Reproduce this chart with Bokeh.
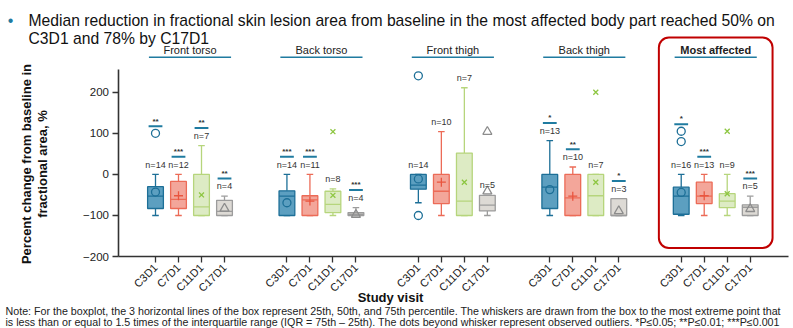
import math
from bokeh.plotting import figure
from bokeh.models import ColumnDataSource, Range1d, FixedTicker, Label, BoxAnnotation
from bokeh.embed import file_html
from bokeh.resources import INLINE
from bokeh.core.properties import value

# ---------------- data ----------------
regions = ["Front torso", "Back torso", "Front thigh", "Back thigh", "Most affected"]
visits = ["C3D1", "C7D1", "C11D1", "C17D1"]

n_counts = [[14, 12, 7, 4], [14, 11, 8, 4], [14, 10, 7, 5], [13, 10, 7, 3], [16, 13, 9, 5]]
signif = [["**", "***", "**", "**"], ["***", "***", "", "***"], ["", "", "", ""],
          ["*", "**", "", "*"], ["*", "***", "", "***"]]
whisker_low = [[-100, -100, -100, -100], [-100, -100, -100, -100], [-69, -100, -100, -100],
               [-100, -100, -100, -100], [-100, -100, -100, -100]]
q1 = [[-83, -83, -100, -100], [-100, -100, -93, -100], [-36, -71, -100, -89],
      [-83, -100, -100, -100], [-97, -71, -81, -100]]
median = [[-53, -61, -79, -90], [-53, -62, -73, -97], [-26, -41, -65, -75],
          [-31, -57, -52, -100], [-53, -53, -65, -80]]
q3 = [[-30, -17, 0, -63], [-40, -52, -41, -93], [0, 0, 52, -51],
      [0, 0, 0, -59], [-31, -19, -47, -74]]
whisker_high = [[0, 0, 70, -53], [0, 0, -35, -81], [0, 104, 211, -51],
                [82, 18, 0, -59], [0, 0, 0, -53]]
mean = [[-43, -52, -50, -83], [-69, -65, -51, -98], [-11, -19, -19, -41],
        [-37, -53, -19, -89], [-44, -52, -47, -84]]
outliers = [[[100], [], [], []], [[], [], [104], []], [[240, -100], [], [], [104]],
            [[], [], [200], []], [[105, 80], [], [105], []]]
y_ticks = [-200, -100, 0, 100, 200]

# ---------------- style ----------------
FONT = "Liberation Sans"
TEXT = "#222222"
ACCENT = "#1F7BA0"
fills = ["#5C9FC0", "#F3A69A", "#DDEBC4", "#DDDAD5"]
edges = ["#1D6F97", "#EC6B57", "#B6D57C", "#9C9C9C"]
mark_colors = ["#1D6F97", "#E9553F", "#8DC641", "#8C8C8C"]
markers = ["circle", "cross", "x", "triangle"]
mark_sizes = [8, 9, 7, 9]

VISIT_STEP, GROUP_STEP = 7, 40
BOX_W, CAP_W, MED_W, SIG_W = 4.8, 2.0, 4.8, 4.2

# page geometry: the figure fills the 793x328 window
OFF = 0
W, H = 793, 328
# screen -> data mapping (screen px measured in the window)
SX0, SXS = 155.0, 23.0 / VISIT_STEP      # x of first tick, px per x unit
SY0, SYS = 173.9, 0.41075                # y of value 0, px per y unit


def dx(s):
    return (s - SX0) / SXS


def dy(s):
    return (SY0 - s) / SYS


X0, X1 = dx(OFF), dx(OFF + W)
Y0, Y1 = dy(OFF + H), dy(OFF)

p = figure(width=W, height=H, output_backend="svg", toolbar_location=None,
           x_range=Range1d(X0, X1), y_range=Range1d(Y0, Y1),
           min_border=0, min_border_left=0, min_border_right=0,
           min_border_top=0, min_border_bottom=0)
p.outline_line_color = None
p.grid.visible = False
p.background_fill_color = "white"
p.border_fill_color = "white"

# ---------------- boxes ----------------
for i, visit in enumerate(visits):
    xs = [g * GROUP_STEP + i * VISIT_STEP for g in range(len(regions))]
    src = ColumnDataSource(dict(
        x=xs,
        lo=[whisker_low[g][i] for g in range(len(regions))],
        q1=[q1[g][i] for g in range(len(regions))],
        med=[median[g][i] for g in range(len(regions))],
        q3=[q3[g][i] for g in range(len(regions))],
        hi=[whisker_high[g][i] for g in range(len(regions))],
        mean=[mean[g][i] for g in range(len(regions))],
        cl=[x - CAP_W / 2 for x in xs], cr=[x + CAP_W / 2 for x in xs],
        ml=[x - MED_W / 2 for x in xs], mr=[x + MED_W / 2 for x in xs],
    ))
    p.segment(x0="x", x1="x", y0="q3", y1="hi", line_color=edges[i], line_width=1.3, source=src)
    p.segment(x0="x", x1="x", y0="q1", y1="lo", line_color=edges[i], line_width=1.3, source=src)
    p.segment(x0="cl", x1="cr", y0="hi", y1="hi", line_color=edges[i], line_width=1.3, source=src)
    p.segment(x0="cl", x1="cr", y0="lo", y1="lo", line_color=edges[i], line_width=1.3, source=src)
    p.vbar(x="x", width=BOX_W, bottom="q1", top="q3", fill_color=fills[i],
           line_color=edges[i], line_width=1.3, source=src)
    p.segment(x0="ml", x1="mr", y0="med", y1="med", line_color=edges[i], line_width=1.3, source=src)
    p.scatter(x="x", y="mean", marker=markers[i], size=mark_sizes[i], fill_color=None,
              line_color=mark_colors[i], line_width=1.3, source=src)
    ox, oy = [], []
    for g in range(len(regions)):
        for v in outliers[g][i]:
            ox.append(xs[g])
            oy.append(v)
    p.scatter(x=ox, y=oy, marker=markers[i], size=mark_sizes[i], fill_color=None,
              line_color=mark_colors[i], line_width=1.3)

# ---------------- n labels and significance ----------------
nx, ny, nt = [], [], []
sx0, sx1, sy, stx, sty, stt = [], [], [], [], [], []
for g in range(len(regions)):
    for i in range(len(visits)):
        x = g * GROUP_STEP + i * VISIT_STEP
        n_y = whisker_high[g][i] + 24
        nx.append(x); ny.append(n_y); nt.append(f"n={n_counts[g][i]}")
        if signif[g][i]:
            above = [v for v in outliers[g][i] if v > whisker_high[g][i]]
            line_y = max([n_y + 19] + [v + 17 for v in above])
            sx0.append(x - SIG_W / 2); sx1.append(x + SIG_W / 2); sy.append(line_y)
            stx.append(x); sty.append(line_y + 2); stt.append(signif[g][i])

p.text(x=nx, y=ny, text=nt, text_align="center", text_baseline="middle",
       text_font=value(FONT), text_font_size="9px", text_color="#333333")
p.segment(x0=sx0, x1=sx1, y0=sy, y1=sy, line_color=ACCENT, line_width=2)
p.text(x=stx, y=sty, text=stt, text_align="center", text_baseline="bottom",
       text_font=value(FONT), text_font_size="8px", text_font_style="bold", text_color="#333333")

# ---------------- facet headers ----------------
centers = [g * GROUP_STEP + 1.5 * VISIT_STEP for g in range(len(regions))]
p.text(x=centers, y=[dy(49.5)] * len(regions), text=regions, text_align="center",
       text_baseline="middle", text_font=value(FONT), text_font_size="11px", text_color=TEXT,
       text_font_style=["normal"] * (len(regions) - 1) + ["bold"])
p.segment(x0=[c - 12.5 for c in centers], x1=[c + 12.5 for c in centers],
          y0=[dy(56.7)] * len(regions), y1=[dy(56.7)] * len(regions),
          line_color=ACCENT, line_width=1.6)

p.add_layout(BoxAnnotation(left=centers[-1] - 17.3, right=centers[-1] + 17.3,
                           top=dy(37), bottom=dy(247.5), fill_alpha=0, fill_color=None,
                           line_color="#C00000", line_alpha=1.0, line_width=2,
                           border_radius=10))

# ---------------- axes (library axes, pinned inside the frame) ----------------
tick_pos = [g * GROUP_STEP + i * VISIT_STEP for g in range(len(regions)) for i in range(len(visits))]
tick_lab = [v for _ in regions for v in visits]
xa = p.xaxis[0]
xa.fixed_location = -200
xa.bounds = (dx(117.5), dx(788))
xa.ticker = FixedTicker(ticks=tick_pos, minor_ticks=[])
xa.major_label_overrides = {t: l for t, l in zip(tick_pos, tick_lab)}
xa.major_label_orientation = math.pi / 4
xa.major_label_text_font = FONT
xa.major_label_text_font_size = "11px"
xa.major_label_text_color = TEXT
xa.major_label_standoff = 3
xa.axis_line_color = "#333333"
xa.axis_line_width = 1.6
xa.major_tick_line_color = "#333333"
xa.major_tick_line_width = 1.3
xa.major_tick_out = 6
xa.major_tick_in = 0

ya = p.yaxis[0]
ya.fixed_location = dx(117.5)
ya.ticker = FixedTicker(ticks=y_ticks, minor_ticks=[])
ya.major_label_overrides = {t: (str(t).replace("-", "\u2212")) for t in y_ticks}
ya.bounds = (-200, 255)
ya.major_label_text_font = FONT
ya.major_label_text_font_size = "11.5px"
ya.major_label_text_color = TEXT
ya.major_label_standoff = 3
ya.axis_line_color = "#333333"
ya.axis_line_width = 1.6
ya.major_tick_line_color = "#333333"
ya.major_tick_line_width = 1.3
ya.major_tick_out = 6
ya.major_tick_in = 0

# ---------------- free texts ----------------
def lab(x, y, text, size, **kw):
    p.add_layout(Label(x=x, y=y, text=text, text_font=FONT, text_font_size=size, **kw))

lab(dx(10), dy(20), "\u2022", "16px", text_color=ACCENT, text_align="center", text_baseline="alphabetic")
lab(dx(28), dy(20), "Median reduction in fractional skin lesion area from baseline in the most affected body part reached 50% on",
    "15.7px", text_color="#111111", text_baseline="alphabetic")
lab(dx(28), dy(38.3), "C3D1 and 78% by C17D1", "15.7px", text_color="#111111", text_baseline="alphabetic")

lab(dx(26), dy(163.5), "Percent change from baseline in", "13px", text_color="#111111",
    text_font_style="bold", angle=math.pi / 2, text_align="center", text_baseline="middle")
lab(dx(42), dy(163.5), "fractional area, %", "13px", text_color="#111111",
    text_font_style="bold", angle=math.pi / 2, text_align="center", text_baseline="middle")
lab(dx(390), dy(297), "Study visit", "13px", text_color="#111111", text_font_style="bold",
    text_align="center", text_baseline="middle")

lab(dx(5), dy(310.5), "Note: For the boxplot, the 3 horizontal lines of the box represent 25th, 50th, and 75th percentile. "
    "The whiskers are drawn from the box to the most extreme point that", "10.7px", text_color="#222222",
    text_baseline="middle")
lab(dx(5), dy(321), "is less than or equal to 1.5 times of the interquartile range (IQR = 75th \u2013 25th). "
    "The dots beyond whisker represent observed outliers. *P\u22640.05; **P\u22640.01; ***P\u22640.001",
    "10.7px", text_color="#222222", text_baseline="middle")

open("out.html", "w").write(file_html(p, INLINE))
